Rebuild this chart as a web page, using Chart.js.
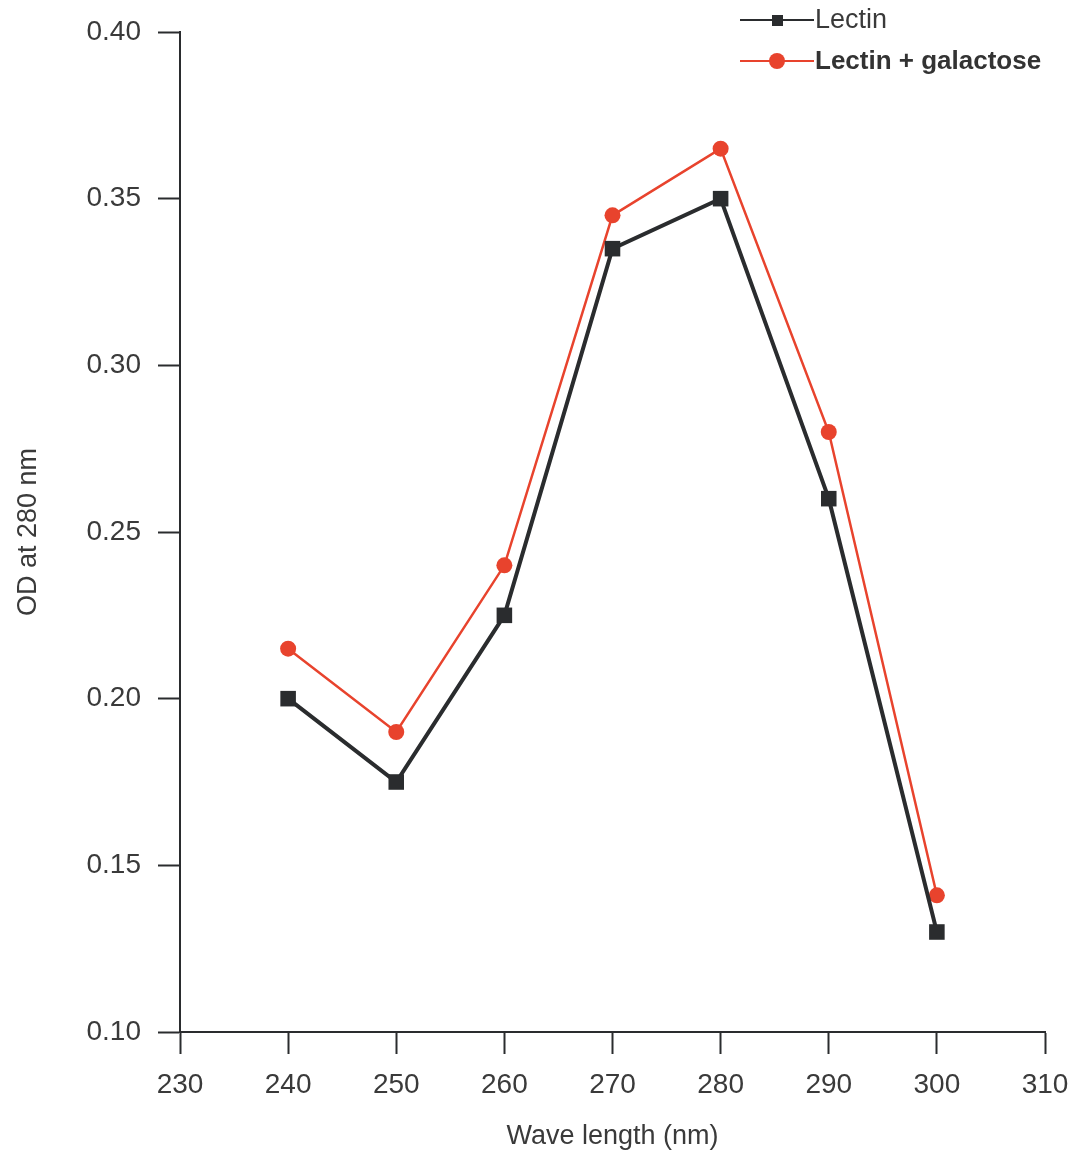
<!DOCTYPE html>
<html>
<head>
<meta charset="utf-8">
<script src="https://cdn.jsdelivr.net/npm/chart.js@4"></script>
<style>
  html, body { margin: 0; padding: 0; background: #fff; }
  #wrap { width: 1073px; height: 1153px; }
</style>
</head>
<body>
<div id="wrap"><canvas id="c"></canvas></div>
<script>
// wavelengths (nm)
const wavelengths = [240, 250, 260, 270, 280, 290, 300];
// OD at 280 nm
const lectin = [0.200, 0.175, 0.225, 0.335, 0.350, 0.260, 0.130];
const lectinGal = [0.215, 0.190, 0.240, 0.345, 0.365, 0.280, 0.141];
const xTicks = [230, 240, 250, 260, 270, 280, 290, 300, 310];
const yTicks = [0.10, 0.15, 0.20, 0.25, 0.30, 0.35, 0.40];

const BLACK = '#2a2c2e';
const RED = '#e8432d';
const TEXT = '#3a3a3a';
const FONT = '"Liberation Sans", Arial, sans-serif';

const toXY = (ys) => wavelengths.map((x, i) => ({x: x, y: ys[i]}));

// legend drawn by hand in the top right corner
const legendPlugin = {
  id: 'cornerLegend',
  afterDraw(chart) {
    const ctx = chart.ctx;
    const rows = [
      {label: 'Lectin', color: BLACK, style: 'rect', bold: false, y: 20},
      {label: 'Lectin + galactose', color: RED, style: 'circle', bold: true, y: 61}
    ];
    ctx.save();
    rows.forEach(r => {
      ctx.strokeStyle = r.color;
      ctx.lineWidth = 2;
      ctx.beginPath();
      ctx.moveTo(740, r.y);
      ctx.lineTo(814, r.y);
      ctx.stroke();
      ctx.fillStyle = r.color;
      if (r.style === 'rect') {
        ctx.fillRect(772, r.y - 5, 11, 11);
      } else {
        ctx.beginPath();
        ctx.arc(777, r.y, 8, 0, Math.PI * 2);
        ctx.fill();
      }
      ctx.fillStyle = r.bold ? '#333' : TEXT;
      ctx.font = (r.bold ? 'bold ' : '') + (r.bold ? '26px ' : '27px ') + FONT;
      ctx.textBaseline = 'middle';
      ctx.textAlign = 'left';
      ctx.fillText(r.label, 815, r.y + 1);
    });
    ctx.restore();
  }
};

new Chart(document.getElementById('c'), {
  type: 'line',
  data: {
    datasets: [
      {
        label: 'Lectin',
        data: toXY(lectin),
        borderColor: BLACK,
        backgroundColor: BLACK,
        borderWidth: 4,
        pointStyle: 'rect',
        pointRadius: 11,
        pointHoverRadius: 11,
        pointBorderWidth: 0,
        tension: 0
      },
      {
        label: 'Lectin + galactose',
        data: toXY(lectinGal),
        borderColor: RED,
        backgroundColor: RED,
        borderWidth: 2.5,
        pointStyle: 'circle',
        pointRadius: 8,
        pointHoverRadius: 8,
        pointBorderWidth: 0,
        tension: 0
      }
    ]
  },
  options: {
    responsive: true,
    maintainAspectRatio: false,
    animation: false,
    layout: { padding: { top: 32, right: 28, left: 0, bottom: 0 } },
    plugins: {
      legend: { display: false },
      tooltip: { enabled: false }
    },
    scales: {
      x: {
        type: 'linear',
        min: 230,
        max: 310,
        afterBuildTicks: (s) => { s.ticks = xTicks.map(v => ({value: v})); },
        afterFit: (s) => { s.height = 121; s.paddingLeft = 0; s.paddingRight = 0; },
        grid: { drawOnChartArea: false, tickLength: 22, color: BLACK, tickWidth: 2 },
        border: { display: true, color: BLACK, width: 2 },
        ticks: { color: TEXT, font: { family: FONT, size: 28 }, padding: 14, maxRotation: 0 },
        title: { display: true, text: 'Wave length (nm)', color: TEXT, font: { family: FONT, size: 27 }, padding: { top: 8, bottom: 0 } }
      },
      y: {
        min: 0.10,
        max: 0.40,
        afterBuildTicks: (s) => { s.ticks = yTicks.map(v => ({value: v})); },
        afterFit: (s) => { s.width = 180; s.paddingTop = 0; s.paddingBottom = 0; },
        grid: { drawOnChartArea: false, tickLength: 22, color: BLACK, tickWidth: 2 },
        border: { display: true, color: BLACK, width: 2 },
        ticks: { color: TEXT, font: { family: FONT, size: 28 }, padding: 17, callback: (v) => v.toFixed(2) },
        title: { display: true, text: 'OD at 280 nm', color: TEXT, font: { family: FONT, size: 27 }, padding: { top: 12, bottom: 0 } }
      }
    }
  },
  plugins: [legendPlugin]
});
</script>
</body>
</html>
